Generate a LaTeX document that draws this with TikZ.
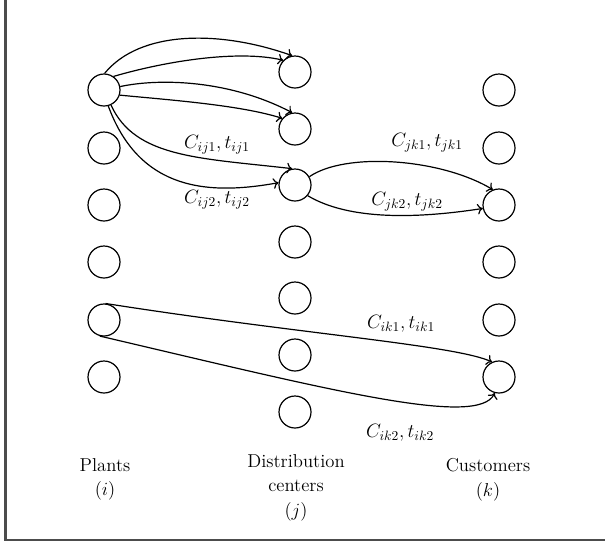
\RequirePackage{fix-cm}
\documentclass[tikz,border=0pt]{standalone}
\usetikzlibrary{arrows.meta}
\begin{document}
\begin{tikzpicture}[x=0.75pt,y=-0.75pt,
  site/.style={circle,draw,line width=0.9pt,minimum size=24pt,inner sep=0pt},
  flow/.style={-{To[length=4pt,width=8pt]},line width=0.9pt},
  cost/.style={font=\fontsize{14.5}{17}\selectfont,inner sep=0pt},
  caption/.style={font=\fontsize{14}{18.5}\selectfont,align=center,inner sep=0pt,anchor=north}]
\useasboundingbox (0,0) rectangle (605,544);
% frame on the left and bottom
\draw[line width=1.6pt,black!70] (5.5,0) -- (5.5,540) -- (605,540);

% plants
\foreach \n/\y in {1/90,2/148,3/205,4/262,5/320,6/377}
  \node[site] (p\n) at (104,\y) {};
% distribution centers
\foreach \n/\y in {1/72,2/129,3/185,4/242,5/298,6/355,7/412}
  \node[site] (d\n) at (295,\y) {};
% customers
\foreach \n/\y in {1/90,2/148,3/205,4/262,5/320,6/377}
  \node[site] (c\n) at (499,\y) {};

% plant 1 to distribution centers 1 and 2
\draw[flow] (p1.88) .. controls (140,30) and (220,30) .. (d1.100);
\draw[flow] (p1.55) .. controls (170,60) and (240,50) .. (d1.135);
\draw[flow] (p1.12) .. controls (160,78) and (230,80) .. (d2.100);
\draw[flow] (p1.-18) .. controls (170,100) and (240,105) .. (d2.140);

% plant 1 to distribution center 3
\draw[flow] (p1.-65) .. controls (135,158) and (200,158) .. (d3.100);
\draw[flow] (p1.-75) .. controls (140,192) and (210,195) .. (d3.172);
\node[cost] (lij1) at (217,145) {$C_{ij1},t_{ij1}$};
\node[cost] (lij2) at (217,200) {$C_{ij2},t_{ij2}$};

% distribution center 3 to customer 3
\draw[flow] (d3.30) .. controls (345,152) and (440,158) .. (c3.112);
\draw[flow] (d3.-40) .. controls (340,215) and (395,222) .. (c3.192);
\node[cost] (ljk1) at (427,143) {$C_{jk1},t_{jk1}$};
\node[cost] (ljk2) at (407,202) {$C_{jk2},t_{jk2}$};

% plant 5 directly to customer 6
\draw[flow] (p5.85) .. controls (300,334) and (455,345) .. (c6.115);
\draw[flow] (p5.-105) .. controls (330,390) and (478,428) .. (c6.-105);
\node[cost] (lik1) at (401,324) {$C_{ik1},t_{ik1}$};
\node[cost] (lik2) at (400,433) {$C_{ik2},t_{ik2}$};

% column captions
\node[caption] (capp) at (105,458) {Plants\\$(i)$};
\node[caption] (capd) at (296,454) {Distribution\\centers\\$(j)$};
\node[caption] (capc) at (488,458) {Customers\\$(k)$};
\end{tikzpicture}
\end{document}
